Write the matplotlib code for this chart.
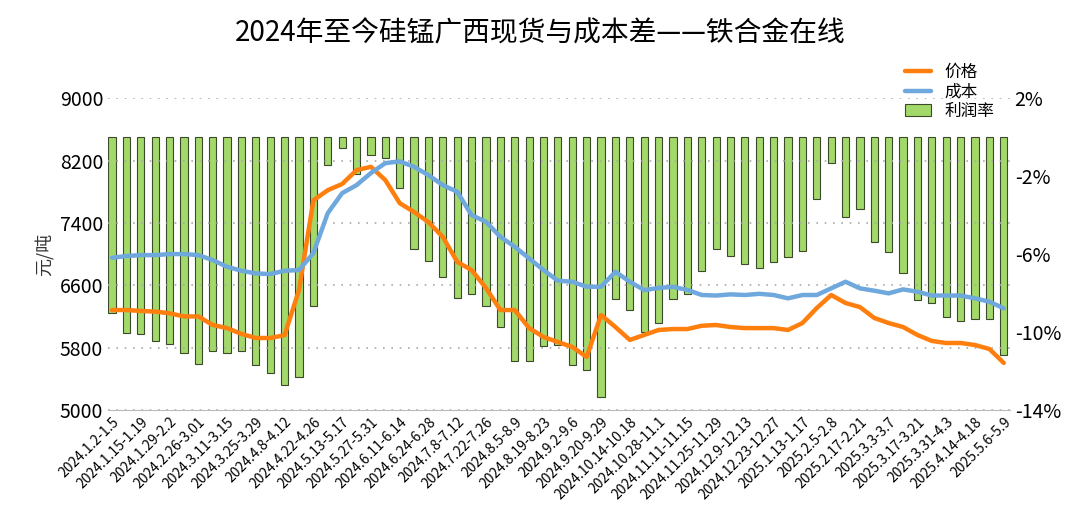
import matplotlib
matplotlib.use("Agg")
import matplotlib.pyplot as plt
import numpy as np

plt.rcParams['font.family'] = ['Noto Sans CJK SC']

weeks = ["2024.1.2-1.5","2024.1.8-1.12","2024.1.15-1.19","2024.1.22-1.26","2024.1.29-2.2","2024.2.19-2.23",
 "2024.2.26-3.01","2024.3.4-3.8","2024.3.11-3.15","2024.3.18-3.22","2024.3.25-3.29","2024.4.1-4.3",
 "2024.4.8-4.12","2024.4.15-4.19","2024.4.22-4.26","2024.5.6-5.10","2024.5.13-5.17","2024.5.20-5.24",
 "2024.5.27-5.31","2024.6.3-6.7","2024.6.11-6.14","2024.6.17-6.21","2024.6.24-6.28","2024.7.1-7.5",
 "2024.7.8-7.12","2024.7.15-7.19","2024.7.22-7.26","2024.7.29-8.2","2024.8.5-8.9","2024.8.12-8.16",
 "2024.8.19-8.23","2024.8.26-8.30","2024.9.2-9.6","2024.9.9-9.13","2024.9.20-9.29","2024.10.8-10.11",
 "2024.10.14-10.18","2024.10.21-10.25","2024.10.28-11.1","2024.11.4-11.8","2024.11.11-11.15","2024.11.18-11.22",
 "2024.11.25-11.29","2024.12.2-12.6","2024.12.9-12.13","2024.12.16-12.20","2024.12.23-12.27","2025.1.2-1.10",
 "2025.1.13-1.17","2025.1.20-1.24","2025.2.5-2.8","2025.2.10-2.14","2025.2.17-2.21","2025.2.24-2.28",
 "2025.3.3-3.7","2025.3.10-3.14","2025.3.17-3.21","2025.3.24-3.28","2025.3.31-4.3","2025.4.7-4.11",
 "2025.4.14-4.18","2025.4.21-4.25","2025.5.6-5.9"]

price = [6282,6282,6270,6262,6240,6200,6200,6090,6050,5975,5923,5923,5960,6540,7690,7820,7900,8077,
 8120,7950,7654,7540,7410,7220,6900,6795,6565,6282,6282,6050,5936,5872,5808,5680,6218,6064,5898,5962,
 6026,6038,6038,6080,6090,6064,6050,6050,6050,6026,6115,6308,6475,6372,6320,6180,6115,6064,5962,5885,
 5859,5859,5833,5782,5603]

cost = [6953,6975,6987,6987,7000,7000,6987,6923,6837,6786,6752,6744,6786,6795,7013,7526,7782,7885,
 8040,8167,8190,8120,8013,7885,7800,7500,7414,7222,7094,6944,6795,6658,6645,6581,6581,6773,6645,6538,
 6565,6580,6540,6475,6468,6483,6475,6490,6475,6432,6475,6475,6560,6645,6560,6530,6496,6547,6517,6468,
 6468,6468,6432,6389,6304]

margin = [-9.04,-10.04,-10.10,-10.45,-10.62,-11.06,-11.66,-10.96,-11.09,-10.96,-11.71,-12.12,-12.70,
 -12.29,-8.67,-1.44,-0.55,-1.91,-0.89,-1.08,-2.63,-5.74,-6.36,-7.16,-8.24,-8.05,-8.65,-9.76,-11.49,
 -11.49,-10.72,-10.67,-11.69,-11.95,-13.32,-8.29,-8.87,-9.98,-9.55,-8.32,-8.05,-6.86,-5.76,-6.10,
 -6.51,-6.73,-6.41,-6.14,-5.86,-3.18,-1.35,-4.12,-3.69,-5.37,-5.88,-6.99,-8.36,-8.50,-9.25,-9.42,
 -9.32,-9.33,-11.19]

x = np.arange(len(weeks))
fig = plt.figure(figsize=(10.8, 5.31), dpi=100)
ax = fig.add_axes([0.1, 0.228, 0.835, 0.587])
ax2 = ax.twinx()
ax.set_zorder(2); ax.patch.set_visible(False)

bars = ax2.bar(x, margin, width=0.5, color='#a3d86a', edgecolor='#3a4a2a', linewidth=0.8, label='利润率')
ax2.set_ylim(-14, 2)
ax2.set_yticks([-14, -10, -6, -2, 2])
ax2.set_yticklabels([f"{v}%" for v in [-14, -10, -6, -2, 2]], fontsize=14)

l1, = ax.plot(x, price, color='#ff7f0e', lw=3.2, label='价格', solid_capstyle='round')
l2, = ax.plot(x, cost, color='#6fa8dc', lw=3.2, label='成本', solid_capstyle='round')
ax.set_ylim(5000, 9000)
ax.set_yticks([5000, 5800, 6600, 7400, 8200, 9000])
ax.tick_params(axis='y', labelsize=14)
ax.yaxis.grid(True, linestyle=(0, (1, 4)), color='#aaaaaa', lw=1.2)
ax.set_xlim(-0.28, 62.42)
ax.set_xticks(x[::2])
ax.set_xticklabels(weeks[::2], rotation=45, ha='right', rotation_mode='anchor', fontsize=10)
ax.set_ylabel('元/吨', fontsize=13, color='#333333')

for a in (ax, ax2):
    for s in a.spines.values():
        s.set_visible(False)
    a.tick_params(length=0)
ax.spines['bottom'].set_visible(True)
ax.spines['bottom'].set_color('#bbbbbb')

fig.suptitle('2024年至今硅锰广西现货与成本差——铁合金在线', fontsize=20, y=0.965)
fig.legend(handles=[l1, l2, bars], labels=['价格', '成本', '利润率'], loc='upper left',
           bbox_to_anchor=(0.83, 0.895), frameon=False, fontsize=12, handlelength=1.6,
           labelspacing=0.15, borderpad=0)
fig.savefig('out.png', dpi=100)
